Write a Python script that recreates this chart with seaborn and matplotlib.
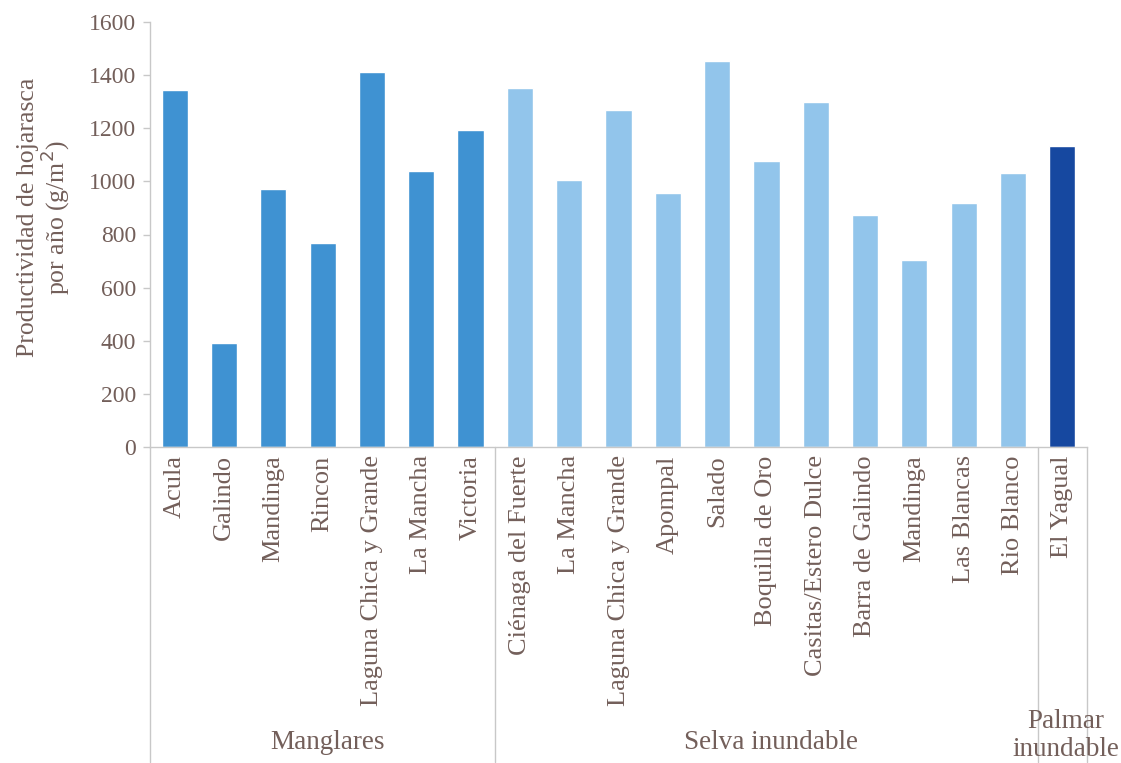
import matplotlib
matplotlib.use("Agg")
import matplotlib.pyplot as plt
import matplotlib.transforms as mtransforms
import seaborn as sns
import pandas as pd

names = ["Acula", "Galindo", "Mandinga", "Rincon", "Laguna Chica y Grande",
         "La Mancha", "Victoria",
         "Ciénaga del Fuerte", "La Mancha", "Laguna Chica y Grande", "Apompal",
         "Salado", "Boquilla de Oro", "Casitas/Estero Dulce", "Barra de Galindo",
         "Mandinga", "Las Blancas", "Rio Blanco",
         "El Yagual"]
groups = ["Manglares"] * 7 + ["Selva inundable"] * 11 + ["Palmar\ninundable"]
values = [1345, 390, 972, 767, 1411, 1040, 1192,
          1353, 1005, 1270, 956, 1452, 1077, 1298, 872, 703, 918, 1032,
          1133]
yticks = [0, 200, 400, 600, 800, 1000, 1200, 1400, 1600]
ylabel = "Productividad de hojarasca\npor año (g/m$^2$)"

palette = {"Manglares": "#3f92d2", "Selva inundable": "#92c5eb",
           "Palmar\ninundable": "#1648a0"}
text_color = "#735f5a"
line_color = "#c8c8c8"

sns.set_style("white")
plt.rcParams["font.family"] = ["Liberation Serif", "DejaVu Serif"]

df = pd.DataFrame({"key": [f"{i}_{n}" for i, n in enumerate(names)],
                   "name": names, "group": groups, "value": values})

fig = plt.figure(figsize=(11.21, 7.63), dpi=100)
ax = fig.add_axes([150 / 1121, 1 - 447 / 763, (1087 - 150) / 1121, 425 / 763])

sns.barplot(data=df, x="key", y="value", hue="group", palette=palette,
            order=list(df["key"]), dodge=False, width=0.53, legend=False,
            saturation=1, ax=ax)

ax.set_ylim(0, 1600)
ax.set_xlim(-0.5, len(names) - 0.5)
ax.set_yticks(yticks)
ax.set_yticklabels([str(t) for t in yticks], fontsize=17, color=text_color)
ax.set_xticks(range(len(names)))
ax.set_xticklabels(names, rotation=90, fontsize=19, color=text_color)
ax.tick_params(axis="x", length=0, pad=6)
ax.tick_params(axis="y", length=5, color=line_color, width=1, pad=5, left=True)
ax.set_xlabel("")
ax.set_ylabel(ylabel, fontsize=18.5, color=text_color, labelpad=12,
              linespacing=1.0)
ax.yaxis.label.set_y(0.54)

for s in ["top", "right"]:
    ax.spines[s].set_visible(False)
for s in ["left", "bottom"]:
    ax.spines[s].set_color(line_color)
    ax.spines[s].set_linewidth(1)

trans = mtransforms.blended_transform_factory(ax.transData, ax.transAxes)
for xpos in [-0.5, 6.5, 17.5, 18.5]:
    ax.plot([xpos, xpos], [0, -0.74], color=line_color, lw=1, transform=trans,
            clip_on=False)

ax.text(3.1, -0.696, "Manglares", transform=trans, ha="center", va="center",
        fontsize=19.5, color=text_color)
ax.text(12.1, -0.696, "Selva inundable", transform=trans, ha="center",
        va="center", fontsize=19.5, color=text_color)
ax.text(18.07, -0.678, "Palmar\ninundable", transform=trans, ha="center",
        va="center", fontsize=19.5, color=text_color, linespacing=1.15)

fig.savefig("out.png", dpi=100)
